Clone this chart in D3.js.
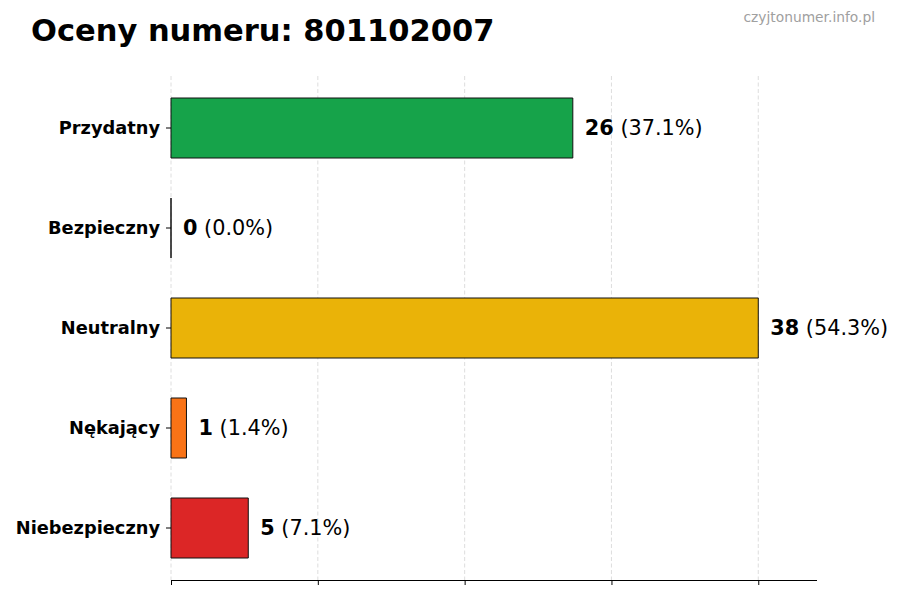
<!DOCTYPE html>
<html>
<head>
<meta charset="utf-8">
<script src="https://cdn.jsdelivr.net/npm/d3@7"></script>
<style>
  body { margin: 0; background: #fff; }
  svg { display: block; font-family: "DejaVu Sans", sans-serif; }
</style>
</head>
<body>
<svg id="chart" width="900" height="600"></svg>
<script>
const categories = ["Przydatny", "Bezpieczny", "Neutralny", "Nękający", "Niebezpieczny"];
const values = [26, 0, 38, 1, 5];
const colors = ["#16a34a", "#6b7280", "#eab308", "#f97316", "#dc2626"];
const titleText = "Oceny numeru: 801102007";
const watermark = "czyjtonumer.info.pl";

(function () {
const total = d3.sum(values);
const maxV = d3.max(values);
const svg = d3.select("#chart");

const mLeft = 171, mRight = 817, mTop = 76, mBottom = 580;
const x = d3.scaleLinear().domain([0, maxV * 1.1]).range([mLeft, mRight]);
const y = d3.scaleBand().domain(categories).range([mTop, mBottom]).paddingInner(0.4).paddingOuter(0.22);

const tickVals = d3.range(0, 5).map(i => maxV * i / 4);

// grid
svg.append("g").selectAll("line").data(tickVals).join("line")
  .attr("x1", d => x(d)).attr("x2", d => x(d))
  .attr("y1", mTop).attr("y2", mBottom)
  .attr("stroke", "#d6d6d6").attr("stroke-width", 0.8)
  .attr("stroke-dasharray", "4,2.5");

// bars
svg.append("g").selectAll("path").data(categories).join("path")
  .attr("d", (c, i) => {
    const x0 = x(0), x1 = x(values[i]), y0 = y(c), h = y.bandwidth();
    return `M${x0},${y0}H${x1}V${y0 + h}H${x0}Z`;
  })
  .attr("fill", (c, i) => colors[i])
  .attr("stroke", "#111").attr("stroke-width", 1);

// value labels
const lbl = svg.append("g").selectAll("text").data(categories).join("text")
  .attr("x", (c, i) => x(values[i]) + 12)
  .attr("y", c => y(c) + y.bandwidth() / 2)
  .attr("dy", "0.35em")
  .attr("font-size", 20.8)
  .attr("fill", "#000");
lbl.append("tspan").attr("font-weight", "bold").text((c, i) => values[i]);
lbl.append("tspan").text((c, i) => " (" + (values[i] / total * 100).toFixed(1) + "%)");

// y axis (no spine)
const yAxis = svg.append("g").attr("transform", `translate(${mLeft},0)`)
  .call(d3.axisLeft(y).tickSize(5).tickPadding(6));
yAxis.select(".domain").remove();
yAxis.selectAll("text").attr("font-size", 17.8).attr("font-weight", "bold")
  .attr("font-family", "DejaVu Sans").attr("fill", "#000");
yAxis.selectAll("line").attr("stroke", "#000");

// x axis
const xAxis = svg.append("g").attr("transform", `translate(0,${mBottom})`)
  .call(d3.axisBottom(x).tickValues(tickVals).tickSize(5).tickFormat(""));
xAxis.select(".domain").attr("d", `M${mLeft},0.5H${mRight}`).attr("stroke", "#000");
xAxis.selectAll("line").attr("stroke", "#000");

// title
svg.append("text").attr("x", 31).attr("y", 41)
  .attr("font-size", 30.5).attr("font-weight", "bold").attr("fill", "#000")
  .text(titleText);
svg.append("text").attr("x", 875).attr("y", 22).attr("text-anchor", "end")
  .attr("font-size", 13.8).attr("fill", "#a0a0a0")
  .text(watermark);
})();
</script>
</body>
</html>
